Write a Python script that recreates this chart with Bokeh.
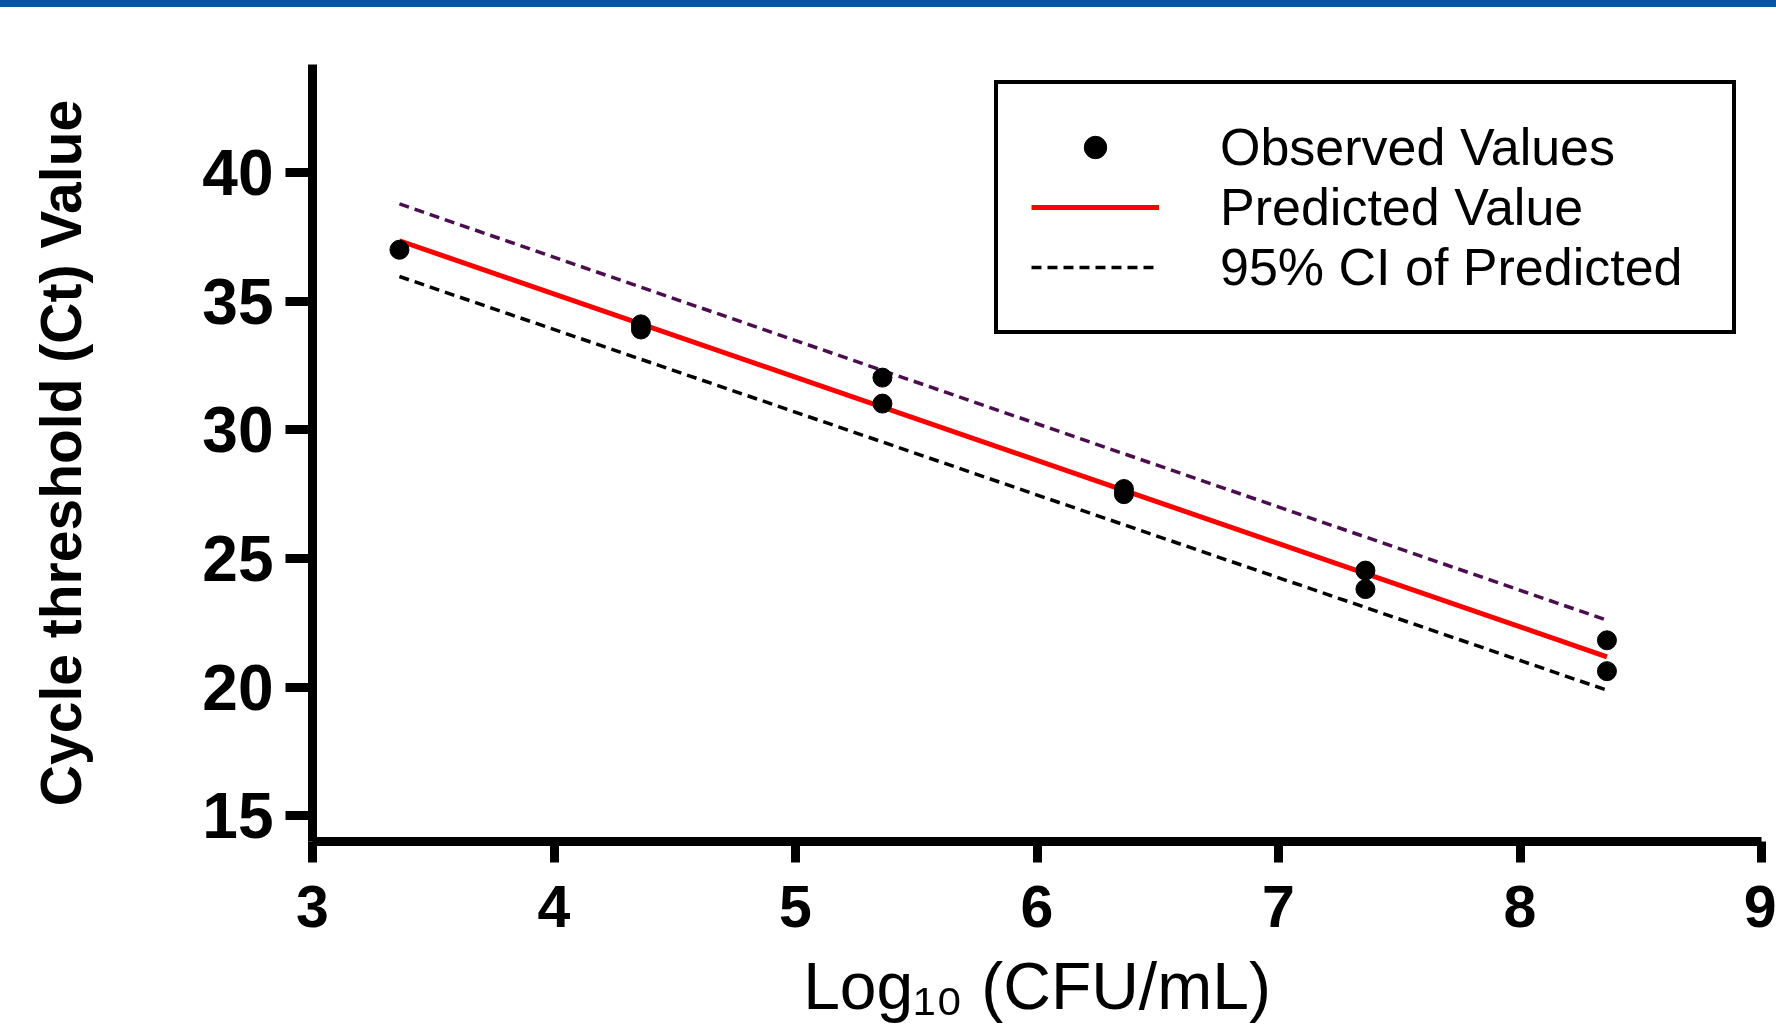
from bokeh.plotting import figure
from bokeh.models import FixedTicker, Legend, LegendItem, Div, Range1d
from bokeh.layouts import column
from bokeh.embed import file_html
from bokeh.resources import INLINE

# ---- data ----
obs_log_cfu = [3.36, 4.36, 4.36, 5.36, 5.36, 6.36, 6.36, 7.36, 7.36, 8.36, 8.36]
obs_ct = [37.0, 34.1, 33.9, 32.03, 31.02, 27.7, 27.5, 24.53, 23.81, 21.82, 20.62]

fit_log_cfu = [3.36, 8.36]
fit_ct = [37.35, 21.18]
ci_upper_ct = [38.78, 22.60]
ci_lower_ct = [35.96, 19.88]

x_ticks = [3, 4, 5, 6, 7, 8, 9]
y_ticks = [15, 20, 25, 30, 35, 40]

FONT = "Liberation Sans"

p = figure(width=1776, height=1018,
           x_range=Range1d(3, 9), y_range=Range1d(14, 44.2),
           output_backend="svg", toolbar_location=None,
           min_border_top=57, min_border_left=312, min_border_right=15,
           min_border_bottom=0)
p.outline_line_color = None
p.grid.visible = False
p.background_fill_color = "white"
p.border_fill_color = "white"

r_lo = p.line(fit_log_cfu, ci_lower_ct, line_color="black", line_width=3.5, line_dash="10 6")
r_up = p.line(fit_log_cfu, ci_upper_ct, line_color="#4b0d4f", line_width=3.5, line_dash="10 6")
r_fit = p.line(fit_log_cfu, fit_ct, line_color="#ff0000", line_width=5)
r_obs = p.scatter(obs_log_cfu, obs_ct, size=19, color="black")

xa = p.xaxis[0]
ya = p.yaxis[0]
xa.ticker = FixedTicker(ticks=x_ticks)
ya.ticker = FixedTicker(ticks=y_ticks)
for ax in (xa, ya):
    ax.axis_line_width = 9
    ax.axis_line_color = "black"
    ax.major_tick_line_width = 9
    ax.major_tick_line_color = "black"
    ax.major_tick_in = 0
    ax.minor_tick_line_color = None
    ax.major_label_text_font = FONT
    ax.major_label_text_font_style = "bold"
    ax.major_label_text_color = "black"
    ax.axis_label_text_font = FONT
    ax.axis_label_text_color = "black"

ya.major_tick_out = 27
ya.major_label_standoff = 12
ya.major_label_text_font_size = "64px"
ya.axis_label = "Cycle threshold (Ct) Value"
ya.axis_label_text_font_style = "bold"
ya.axis_label_text_font_size = "57px"
ya.axis_label_standoff = 106

xa.major_tick_out = 21
xa.major_label_standoff = 23
xa.major_label_text_font_size = "59px"
xa.axis_label = "Log\u2081\u2080 (CFU/mL)"
xa.axis_label_text_font_style = "normal"
xa.axis_label_text_font_size = "66px"
xa.axis_label_standoff = 19

legend = Legend(items=[
    LegendItem(label="Observed Values", renderers=[r_obs]),
    LegendItem(label="Predicted Value", renderers=[r_fit]),
    LegendItem(label="95% CI of Predicted", renderers=[r_lo]),
], location=(682, 507))
legend.border_line_color = "black"
legend.border_line_alpha = 1.0
legend.border_line_width = 4
legend.background_fill_color = "white"
legend.background_fill_alpha = 1.0
legend.padding = 33
legend.spacing = 0
legend.glyph_width = 128
legend.glyph_height = 56
legend.label_height = 56
legend.label_standoff = 61
legend.label_width = 479
legend.label_text_font = FONT
legend.label_text_font_size = "52px"
legend.label_text_color = "black"
p.add_layout(legend, "center")

band = Div(width=1776, height=7, margin=0,
           styles={"background-color": "#0455a6"})

layout = column(band, p)
open("out.html", "w").write(file_html(layout, INLINE))
